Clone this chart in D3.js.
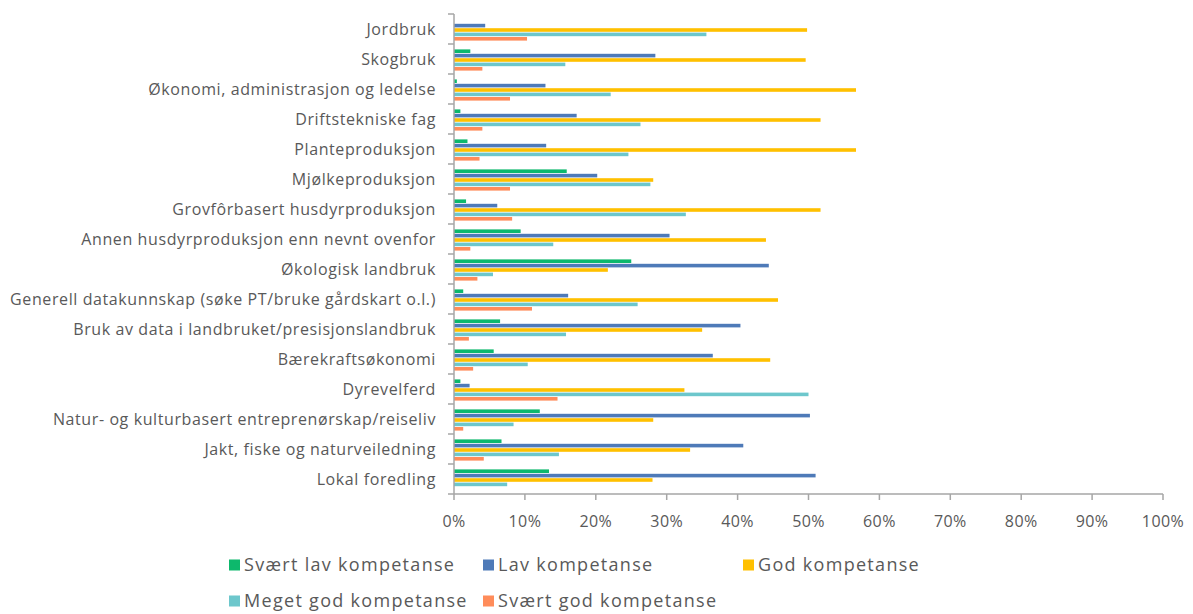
<!DOCTYPE html>
<html><head><meta charset="utf-8">
<script src="https://cdn.jsdelivr.net/npm/d3@7"></script>
<style>body{margin:0;background:#fff}svg{display:block}text{font-family:"Open Sans",sans-serif}</style>
</head><body>
<svg id="chart" width="1193" height="614"></svg>
<script>
const categories = ["Jordbruk","Skogbruk","Økonomi, administrasjon og ledelse","Driftstekniske fag","Planteproduksjon","Mjølkeproduksjon","Grovfôrbasert husdyrproduksjon","Annen husdyrproduksjon enn nevnt ovenfor","Økologisk landbruk","Generell datakunnskap (søke PT/bruke gårdskart o.l.)","Bruk av data i landbruket/presisjonslandbruk","Bærekraftsøkonomi","Dyrevelferd","Natur- og kulturbasert entreprenørskap/reiseliv","Jakt, fiske og naturveiledning","Lokal foredling"];
const seriesNames = ["Svært lav kompetanse","Lav kompetanse","God kompetanse","Meget god kompetanse","Svært god kompetanse"];
const svaertLav = [0,2.3,0.4,0.9,1.9,15.9,1.7,9.4,25.0,1.3,6.5,5.6,0.9,12.1,6.7,13.4];
const lav =       [4.4,28.4,12.9,17.3,13.0,20.2,6.1,30.4,44.4,16.1,40.4,36.5,2.2,50.2,40.8,51.0];
const god =       [49.8,49.6,56.7,51.7,56.7,28.1,51.7,44.0,21.7,45.7,35.0,44.6,32.5,28.1,33.3,28.0];
const megetGod =  [35.6,15.7,22.1,26.3,24.6,27.7,32.7,14.0,5.5,25.9,15.8,10.4,50.0,8.4,14.8,7.5];
const svaertGod = [10.3,4.0,7.9,4.0,3.6,7.9,8.2,2.3,3.3,11.0,2.1,2.7,14.6,1.3,4.2,0];
const xTicks = [0,10,20,30,40,50,60,70,80,90,100];
const colors = ["#0db86c","#4e7ab8","#ffc000","#6dc7cc","#ff8c5a"];
const seriesValues = [svaertLav, lav, god, megetGod, svaertGod];

const svg = d3.select("#chart");
const pLeft = 454, pRight = 1163, pTop = 14, pBottom = 494;
const x = d3.scaleLinear().domain([0,100]).range([pLeft,pRight]);
const y = d3.scaleBand().domain(categories).range([pTop,pBottom]).padding(0);
const inner = d3.scaleBand().domain(seriesNames).range([5, 27]).padding(0);
const axisColor = "#a6a6a6", textColor = "#595959";

// bars
const g = svg.append("g");
seriesNames.forEach((s, si) => {
  g.selectAll(null).data(categories).enter().append("rect")
    .attr("x", x(0))
    .attr("y", c => y(c) + inner(s) + 0.4)
    .attr("width", (c, i) => x(seriesValues[si][i]) - x(0))
    .attr("height", inner.bandwidth() - 0.8)
    .attr("fill", colors[si]);
});

// y axis
const ya = svg.append("g");
ya.append("line").attr("x1", pLeft).attr("x2", pLeft).attr("y1", pTop).attr("y2", pBottom).attr("stroke", axisColor).attr("stroke-width", 1.5);
const bounds = categories.map(c => y(c)).concat([pBottom]);
ya.selectAll(null).data(bounds).enter().append("line")
  .attr("x1", pLeft - 6).attr("x2", pLeft).attr("y1", d => d).attr("y2", d => d)
  .attr("stroke", axisColor).attr("stroke-width", 1.5);
ya.selectAll(null).data(categories).enter().append("text")
  .attr("x", 436).attr("y", c => y(c) + y.bandwidth()/2)
  .attr("dy", "0.35em").attr("text-anchor", "end")
  .attr("fill", textColor).style("font-size", "16px").style("letter-spacing", "0.6px").text(c => c);

// x axis
const xa = svg.append("g");
xa.append("line").attr("x1", pLeft).attr("x2", pRight).attr("y1", pBottom).attr("y2", pBottom).attr("stroke", axisColor).attr("stroke-width", 1.5);
xa.selectAll(null).data(xTicks).enter().append("line")
  .attr("x1", d => x(d)).attr("x2", d => x(d)).attr("y1", pBottom).attr("y2", pBottom + 6)
  .attr("stroke", axisColor).attr("stroke-width", 1.5);
xa.selectAll(null).data(xTicks).enter().append("text")
  .attr("x", d => x(d)).attr("y", 521).attr("dy", "0.35em").attr("text-anchor", "middle")
  .attr("fill", textColor).style("font-size", "16px").style("letter-spacing", "0.4px").text(d => d + "%");

// legend
const legendPos = [[230,565],[484,565],[744,565],[230,601],[484,601]];
const lg = svg.append("g");
seriesNames.forEach((s, i) => {
  const [lx, ly] = legendPos[i];
  lg.append("rect").attr("x", lx - 1).attr("y", ly - 5.5).attr("width", 11).attr("height", 11).attr("fill", colors[i]);
  lg.append("text").attr("x", lx + 14).attr("y", ly).attr("dy", "0.35em")
    .attr("fill", textColor).style("font-size", "18px").style("letter-spacing", "1.3px").text(s);
});
</script>
</body></html>
